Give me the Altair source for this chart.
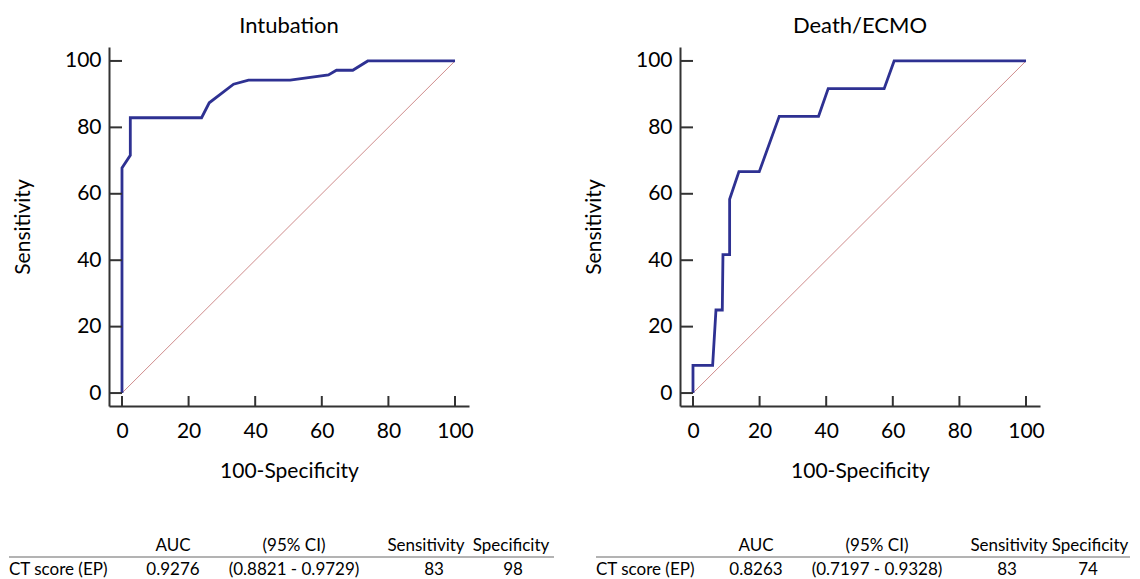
import altair as alt
import pandas as pd

# ---------------- data ----------------
tick_values = [0, 20, 40, 60, 80, 100]

intub_fpr = [0, 0, 2.5, 2.5, 23.9, 26.2, 33.5, 38.0, 50.5, 62.0, 64.4, 69.3, 73.8, 100]
intub_sens = [0, 67.8, 71.6, 82.9, 82.9, 87.4, 93.0, 94.2, 94.2, 95.8, 97.2, 97.2, 100, 100]

death_fpr = [0, 0, 5.9, 6.9, 8.8, 9.0, 11.0, 11.0, 13.8, 19.9, 25.9, 37.7, 40.6, 57.4, 60.4, 100]
death_sens = [0, 8.33, 8.33, 25, 25, 41.67, 41.67, 58.33, 66.67, 66.67, 83.33, 83.33, 91.67, 91.67, 100, 100]

diag_x = [0, 100]
diag_y = [0, 100]

titles = ["Intubation", "Death/ECMO"]
header = ["AUC", "(95% CI)", "Sensitivity", "Specificity"]
row_label = "CT score (EP)"
intub_row = ["0.9276", "(0.8821 - 0.9729)", "83", "98"]
death_row = ["0.8263", "(0.7197 - 0.9328)", "83", "74"]

# ---------------- layout / style ----------------
FONT = "Lato"
W, H = 360, 359
DOM = [-3.9, 104.2]
CURVE = "#2e3192"
DIAG = "#cf8c8c"
AXC = "#333333"


def panel(fpr, sens, title, row, label_x, line_x2, col_x, val_x):
    xsc = alt.Scale(domain=DOM, nice=False, zero=False)
    ysc = alt.Scale(domain=DOM, nice=False, zero=False)
    xaxis = alt.Axis(values=tick_values, title="100-Specificity", labelPadding=14,
                     titlePadding=19)
    yaxis = alt.Axis(values=tick_values, title="Sensitivity", labelPadding=8,
                     titlePadding=31)

    diag = alt.Chart(pd.DataFrame({"fpr": diag_x, "sens": diag_y})).mark_line(
        color=DIAG, strokeWidth=1
    ).encode(
        x=alt.X("fpr:Q", scale=xsc, axis=xaxis),
        y=alt.Y("sens:Q", scale=ysc, axis=yaxis),
    )
    curve_df = pd.DataFrame({"fpr": fpr, "sens": sens, "i": list(range(len(fpr)))})
    curve = alt.Chart(curve_df).mark_line(color=CURVE, strokeWidth=2.8).encode(
        x=alt.X("fpr:Q", scale=xsc, axis=xaxis),
        y=alt.Y("sens:Q", scale=ysc, axis=yaxis),
        order="i:Q",
    )
    xt = alt.Chart(pd.DataFrame({"fpr": tick_values})).mark_rule(
        color=AXC, strokeWidth=2
    ).encode(
        x=alt.X("fpr:Q", scale=xsc, axis=xaxis),
        y=alt.value(H - 10),
        y2=alt.value(H),
    )
    yt = alt.Chart(pd.DataFrame({"sens": tick_values})).mark_rule(
        color=AXC, strokeWidth=2
    ).encode(
        y=alt.Y("sens:Q", scale=ysc, axis=yaxis),
        x=alt.value(0),
        x2=alt.value(13),
    )
    layers = [diag, curve, xt, yt]

    ttl = alt.Chart(pd.DataFrame({"t": [title]})).mark_text(
        font=FONT, fontSize=22, baseline="alphabetic", align="center", color="black"
    ).encode(text="t:N", x=alt.value(W / 2), y=alt.value(-14))
    layers.append(ttl)

    # table
    rule = alt.Chart(pd.DataFrame({"a": [0]})).mark_rule(
        color="#9a9a9a", strokeWidth=1.5
    ).encode(x=alt.value(label_x), x2=alt.value(line_x2), y=alt.value(510))
    layers.append(rule)
    lab = alt.Chart(pd.DataFrame({"t": [row_label]})).mark_text(
        font=FONT, fontSize=17, baseline="alphabetic", align="left", color="black"
    ).encode(text="t:N", x=alt.value(label_x), y=alt.value(528))
    layers.append(lab)
    for h, cx in zip(header, col_x):
        layers.append(
            alt.Chart(pd.DataFrame({"t": [h]})).mark_text(
                font=FONT, fontSize=17, baseline="alphabetic", align="center", color="black"
            ).encode(text="t:N", x=alt.value(cx), y=alt.value(504))
        )
    for v, cx in zip(row, val_x):
        layers.append(
            alt.Chart(pd.DataFrame({"t": [v]})).mark_text(
                font=FONT, fontSize=17, baseline="alphabetic", align="center", color="black"
            ).encode(text="t:N", x=alt.value(cx), y=alt.value(528))
        )
    return alt.layer(*layers).properties(width=W, height=H)


left = panel(intub_fpr, intub_sens, titles[0], intub_row,
             -100, 445, [64, 185, 317, 402], [64, 185, 325, 404])
right = panel(death_fpr, death_sens, titles[1], death_row,
              -84, 450, [76, 197, 329, 410], [76, 197, 327, 408])

chart = alt.hconcat(left, right, spacing=211, bounds="flush").properties(
    padding={"left": 0, "top": 7, "right": 0, "bottom": 0}
).configure_view(stroke=None).configure_axis(
    domainColor=AXC, domainWidth=2, ticks=False, tickSize=0, grid=False,
    labelFont=FONT, labelFontSize=21, labelColor="black",
    titleFont=FONT, titleFontSize=21, titleFontWeight="normal", titleColor="black",
)

chart.save("out.html", embed_options={"renderer": "svg", "actions": False})
